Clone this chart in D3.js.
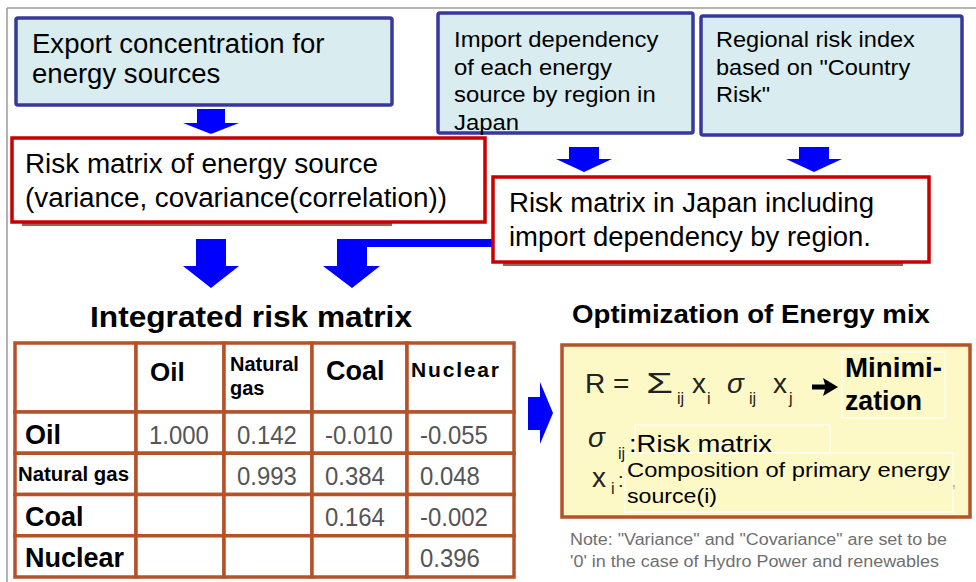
<!DOCTYPE html>
<html>
<head>
<meta charset="utf-8">
<script src="https://cdn.jsdelivr.net/npm/d3@7"></script>
<style>
body { margin: 0; background: #fff; }
svg { display: block; font-family: "Liberation Sans", Arial, sans-serif; }
</style>
</head>
<body>
<div id="chart"></div>
<script>
"use strict";

// ---- texts of the flow boxes ----
const exportLines = ["Export concentration for", "energy sources"];
const importLines = ["Import dependency", "of each energy", "source by region in", "Japan"];
const regionLines = ["Regional risk index", "based on \"Country", "Risk\""];
const sourceRiskLines = ["Risk matrix of energy source", "(variance, covariance(correlation))"];
const japanRiskLines = ["Risk matrix in Japan including", "import dependency by region."];

// ---- integrated risk matrix ----
const matrixTitle = "Integrated risk matrix";
const sources = ["Oil", "Natural gas", "Coal", "Nuclear"];
const riskMatrix = [
    [1.000, 0.142, -0.010, -0.055],
    [null, 0.993, 0.384, 0.048],
    [null, null, 0.164, -0.002],
    [null, null, null, 0.396]
];

// ---- optimization box ----
const optTitle = "Optimization of Energy mix";
const formulaTokens = ["R", "=", "\u03A3", "ij", "x", "i", "\u03C3", "ij", "x", "j"];
const minimLines = ["Minimi-", "zation"];
const sigmaLabel = ":Risk matrix";
const compLines = ["Composition of primary energy", "source(i)"];
const noteLines = [
    "Note: \"Variance\" and \"Covariance\" are set to be",
    "'0' in the case of Hydro Power and renewables"
];

const W = 976, H = 582;
const blue = "#0000ff";
const brown = "#b4532a";
let svg = "";

window.onload = function () {
    svg = d3.select("#chart").append("svg")
        .attr("width", W)
        .attr("height", H);

    drawFrame();
    drawFlow();
    drawMatrix();
    drawOptimization();
}

// put one text, optionally forced to a width
function addText(parent, str, x, y, size, opt = {}) {
    let t = parent.append("text")
        .attr("x", x)
        .attr("y", y)
        .style("font-size", size + "px")
        .style("font-weight", opt.bold ? "bold" : "normal")
        .style("font-style", opt.italic ? "italic" : "normal")
        .attr("fill", opt.fill || "#000")
        .text(str);
    if (opt.width) {
        t.attr("textLength", opt.width).attr("lengthAdjust", opt.adjust || "spacingAndGlyphs");
    } else if (opt.k) {
        t.attr("textLength", t.node().getComputedTextLength() * opt.k)
            .attr("lengthAdjust", "spacingAndGlyphs");
    }
    return t;
}

// several lines, each stretched by k
function addLines(parent, lines, x, y0, step, size, k) {
    lines.forEach((s, i) => addText(parent, s, x, y0 + i * step, size, { k: k }));
}

// block arrow pointing down
function downArrow(cx, top, neck, tip, shaft, head) {
    return [[cx - shaft, top], [cx + shaft, top], [cx + shaft, neck], [cx + head, neck],
        [cx, tip], [cx - head, neck], [cx - shaft, neck]];
}

let poly = d3.line();

function drawFrame() {
    svg.append("line").attr("x1", 7).attr("x2", W).attr("y1", 8).attr("y2", 8)
        .attr("stroke", "#b5b5b5").attr("stroke-width", 2);
    svg.append("line").attr("x1", 7).attr("x2", 7).attr("y1", 8).attr("y2", H)
        .attr("stroke", "#9a9a9a").attr("stroke-width", 1.5);
}

function blueBox(x, y, w, h) {
    svg.append("rect").attr("x", x).attr("y", y).attr("width", w).attr("height", h)
        .attr("rx", 2)
        .attr("fill", "#d9ecef").attr("stroke", "#38389c").attr("stroke-width", 3.5);
}

function redBox(x, y, w, h, shadowEnd) {
    svg.append("rect").attr("x", x + 10).attr("y", y + h + 1).attr("width", shadowEnd - x - 10).attr("height", 3)
        .attr("fill", "#7a2c1c").attr("opacity", 0.75);
    svg.append("rect").attr("x", x).attr("y", y).attr("width", w).attr("height", h)
        .attr("fill", "#fff").attr("stroke", "#c80000").attr("stroke-width", 3.5);
}

function drawFlow() {
    // input boxes
    blueBox(16, 18, 376, 87);
    addLines(svg, exportLines, 32, 53, 30, 27, 1.02);

    blueBox(438, 13, 255, 120);
    addLines(svg, importLines, 454, 47, 27.5, 22, 1.085);

    blueBox(701, 16, 261, 119);
    addLines(svg, regionLines, 716, 47, 27.5, 22, 1.07);

    // small arrows into the red boxes
    [downArrow(211, 109, 123, 134, 14, 28),
     downArrow(584, 147, 159, 172, 15, 28),
     downArrow(814, 147, 159, 172, 15, 28)].forEach(p => {
        svg.append("path").attr("d", poly(p) + "Z").attr("fill", blue);
    });

    redBox(12, 138, 473, 84, 392);
    addText(svg, sourceRiskLines[0], 25, 173, 27, { width: 353 });
    addText(svg, sourceRiskLines[1], 25, 207, 27, { width: 422 });

    // connector from the Japan box to the second big arrow
    let connector = [[337, 239], [493, 239], [493, 247], [367, 247], [367, 266], [380, 266],
        [352, 288], [323, 266], [337, 266]];
    svg.append("path").attr("d", poly(connector) + "Z").attr("fill", blue);
    svg.append("path").attr("d", poly(downArrow(211, 239, 266, 288, 15, 28)) + "Z").attr("fill", blue);

    redBox(493, 177, 436, 85, 903);
    addText(svg, japanRiskLines[0], 509, 212, 27, { width: 365 });
    addText(svg, japanRiskLines[1], 509, 246, 27, { width: 362 });
}

function drawMatrix() {
    addText(svg, matrixTitle, 90, 327, 30, { bold: true, width: 322 });

    let colKeys = ["label"].concat(sources);
    let colWidths = [121, 88, 88, 95, 107];
    let edges = Array.from(d3.cumsum([15].concat(colWidths)));
    let xCol = d3.scaleOrdinal().domain(colKeys).range(edges.slice(0, -1));
    let wCol = d3.scaleOrdinal().domain(colKeys).range(colWidths);
    let headTop = 343, headBottom = 412;
    let yRow = d3.scaleBand().domain(sources).range([headBottom, 577]);

    let g = svg.append("g");

    // header cells
    g.selectAll(".hcell").data(colKeys).enter().append("rect")
        .attr("x", d => xCol(d)).attr("y", headTop)
        .attr("width", d => wCol(d)).attr("height", headBottom - headTop)
        .attr("fill", "#fff").attr("stroke", brown).attr("stroke-width", 3.5);

    // body cells
    let cells = [];
    sources.forEach((r, i) => colKeys.forEach((c, j) => cells.push({ row: r, col: c, i: i, j: j })));
    g.selectAll(".cell").data(cells).enter().append("rect")
        .attr("x", d => xCol(d.col)).attr("y", d => yRow(d.row))
        .attr("width", d => wCol(d.col)).attr("height", yRow.bandwidth())
        .attr("fill", "#fff").attr("stroke", brown).attr("stroke-width", 3.5);

    // column headings
    addText(g, "Oil", xCol("Oil") + 14, 381, 26, { bold: true });
    addText(g, "Natural", xCol("Natural gas") + 6, 371, 20, { bold: true });
    addText(g, "gas", xCol("Natural gas") + 6, 395, 20, { bold: true });
    addText(g, "Coal", xCol("Coal") + 14, 380, 27, { bold: true });
    addText(g, "Nuclear", xCol("Nuclear") + 4, 377, 21, { bold: true, width: 88, adjust: "spacing" });

    // row headings
    sources.forEach(s => {
        let yc = yRow(s) + yRow.bandwidth() / 2;
        if (s === "Natural gas") {
            addText(g, s, 18, yc + 7, 20, { bold: true, width: 111 });
        } else {
            addText(g, s, 25, yc + 11, 27, { bold: true });
        }
    });

    // values
    let fmt = d3.formatLocale({ decimal: ".", thousands: ",", grouping: [3], currency: ["", ""], minus: "-" }).format(".3f");
    cells.filter(d => d.j > 0 && riskMatrix[d.i][d.j - 1] !== null).forEach(d => {
        let v = riskMatrix[d.i][d.j - 1];
        addText(g, fmt(v), xCol(d.col) + 13, yRow(d.row) + yRow.bandwidth() / 2 + 11, 26,
            { fill: "#555", k: 0.92 });
    });
}

function drawOptimization() {
    addText(svg, optTitle, 572, 323, 26, { bold: true, width: 358 });

    // arrow from matrix to optimization
    let rArrow = [[528, 397], [540, 397], [540, 382], [553, 413], [540, 444], [540, 430], [528, 430]];
    svg.append("path").attr("d", poly(rArrow) + "Z").attr("fill", blue);

    svg.append("rect").attr("x", 562).attr("y", 345).attr("width", 408).attr("height", 172)
        .attr("fill", "#fdf9c6").attr("stroke", brown).attr("stroke-width", 3.5);

    // faint text frames
    [[842, 352, 103, 66], [635, 425, 195, 28], [625, 453, 328, 59]].forEach(r => {
        svg.append("rect").attr("x", r[0]).attr("y", r[1]).attr("width", r[2]).attr("height", r[3])
            .attr("fill", "none").attr("stroke", "#fffdf0").attr("stroke-width", 1.5);
    });

    // R = Σij xi σij xj
    let tokX = [585, 613, 646, 677, 692, 707, 727, 749, 773, 789];
    let subs = [3, 5, 7, 9];
    formulaTokens.forEach((t, i) => {
        let isSub = subs.includes(i);
        if (isSub) {
            addText(svg, t, tokX[i], 404, 16, { fill: "#222" });
        } else if (t === "\u03A3") {
            addText(svg, t, tokX[i], 393, 30, { fill: "#222", width: 27 });
        } else {
            addText(svg, t, tokX[i], 393, 28, { fill: "#222", italic: t === "\u03C3" });
        }
    });
    // bold arrow
    svg.append("path").attr("d", poly([[812, 384.5], [825, 384.5], [823, 378], [838, 387], [823, 396], [825, 389.5], [812, 389.5]]) + "Z")
        .attr("fill", "#000");
    addText(svg, minimLines[0], 845, 377, 27, { bold: true, width: 97 });
    addText(svg, minimLines[1], 845, 410, 27, { bold: true, width: 77 });

    // σij : Risk matrix
    addText(svg, "\u03C3", 588, 447, 28, { italic: true, fill: "#222" });
    addText(svg, "ij", 618, 459, 16, { fill: "#222" });
    addText(svg, sigmaLabel, 629, 452, 24, { width: 143 });

    // xi : composition
    addText(svg, "x", 592, 487, 28, { fill: "#222" });
    addText(svg, "i", 611, 494, 16, { fill: "#222" });
    addText(svg, ":", 618, 487, 20, { fill: "#222" });
    addText(svg, compLines[0], 627, 477, 21, { width: 323 });
    addText(svg, compLines[1], 627, 503, 21, { width: 90 });
    addText(svg, ",", 951, 487, 20, { fill: "#bbb" });

    addText(svg, noteLines[0], 570, 545, 16, { fill: "#6f6f6f", width: 377 });
    addText(svg, noteLines[1], 570, 567, 16, { fill: "#6f6f6f", width: 369 });
}
</script>
</body>
</html>
